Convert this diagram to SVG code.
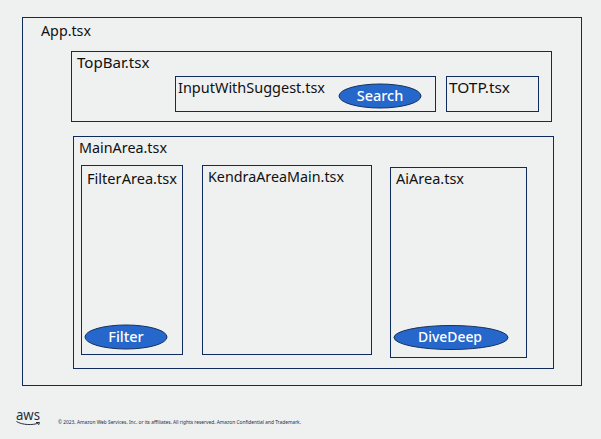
<svg xmlns="http://www.w3.org/2000/svg" width="601" height="439" viewBox="0 0 601 439">
<style>
.box{fill:none;stroke:#0f2a5c;stroke-width:1}
.pill{fill:#2667cc;stroke:#14305f;stroke-width:1}
.lbl{font-family:"Noto Sans","Open Sans",sans-serif;font-size:14.500px;fill:#111}
.btn{font-family:"Noto Sans","Open Sans",sans-serif;font-size:14.500px;font-weight:500;fill:#fff;text-anchor:middle}
</style>
<rect width="601" height="439" fill="#eff0f0"/>
<g id="connectors"/>
<g id="app"><rect class="box" x="22.5" y="17.5" width="559" height="368"/><text class="lbl" x="41" y="36" textLength="50" lengthAdjust="spacingAndGlyphs">App.tsx</text></g>
<g id="topbar"><rect class="box" x="71.5" y="51.5" width="480" height="70"/><text class="lbl" x="77" y="68" textLength="72.500" lengthAdjust="spacingAndGlyphs">TopBar.tsx</text></g>
<g id="input"><rect class="box" x="175.500" y="76.500" width="260" height="35"/><text class="lbl" x="178" y="93" textLength="147" lengthAdjust="spacingAndGlyphs">InputWithSuggest.tsx</text></g>
<g id="search"><ellipse class="pill" cx="380" cy="96" rx="41" ry="12"/><text class="btn" x="380" y="101">Search</text></g>
<g id="totp"><rect class="box" x="446.500" y="76.500" width="92" height="35"/><text class="lbl" x="449" y="93" textLength="61" lengthAdjust="spacingAndGlyphs">TOTP.tsx</text></g>
<g id="main"><rect class="box" x="73.500" y="136.500" width="480" height="232"/><text class="lbl" x="79" y="153" textLength="88" lengthAdjust="spacingAndGlyphs">MainArea.tsx</text></g>
<g id="filterarea"><rect class="box" x="81.500" y="165.500" width="101" height="189"/><text class="lbl" x="87" y="184" textLength="90" lengthAdjust="spacingAndGlyphs">FilterArea.tsx</text></g>
<g id="filter"><ellipse class="pill" cx="126" cy="337" rx="41" ry="12"/><text class="btn" x="126" y="342">Filter</text></g>
<g id="kendra"><rect class="box" x="202.500" y="165.500" width="169" height="189"/><text class="lbl" x="208" y="182" textLength="136" lengthAdjust="spacingAndGlyphs">KendraAreaMain.tsx</text></g>
<g id="aiarea"><rect class="box" x="390.500" y="167.500" width="136" height="190"/><text class="lbl" x="396" y="184" textLength="68" lengthAdjust="spacingAndGlyphs">AiArea.tsx</text></g>
<g id="divedeep"><ellipse class="pill" cx="451" cy="337.500" rx="57" ry="12"/><text class="btn" x="450" y="342" textLength="64" lengthAdjust="spacingAndGlyphs">DiveDeep</text></g>
<g id="footer">
<text x="16" y="420" font-family="'Noto Sans','Open Sans',sans-serif" font-size="13.500" fill="#232f3e" textLength="24" lengthAdjust="spacingAndGlyphs">aws</text>
<path d="M16.500 421.500C22 425 33 425.500 38.500 423M36 422.500L39.500 422.500L38.500 425" fill="none" stroke="#232f3e" stroke-width="1"/>
<text x="58" y="424" font-family="'Noto Sans','Open Sans',sans-serif" font-size="4.700" fill="#232f3e" textLength="243" lengthAdjust="spacingAndGlyphs">© 2023, Amazon Web Services, Inc. or its affiliates. All rights reserved. Amazon Confidential and Trademark.</text>
</g>
</svg>
